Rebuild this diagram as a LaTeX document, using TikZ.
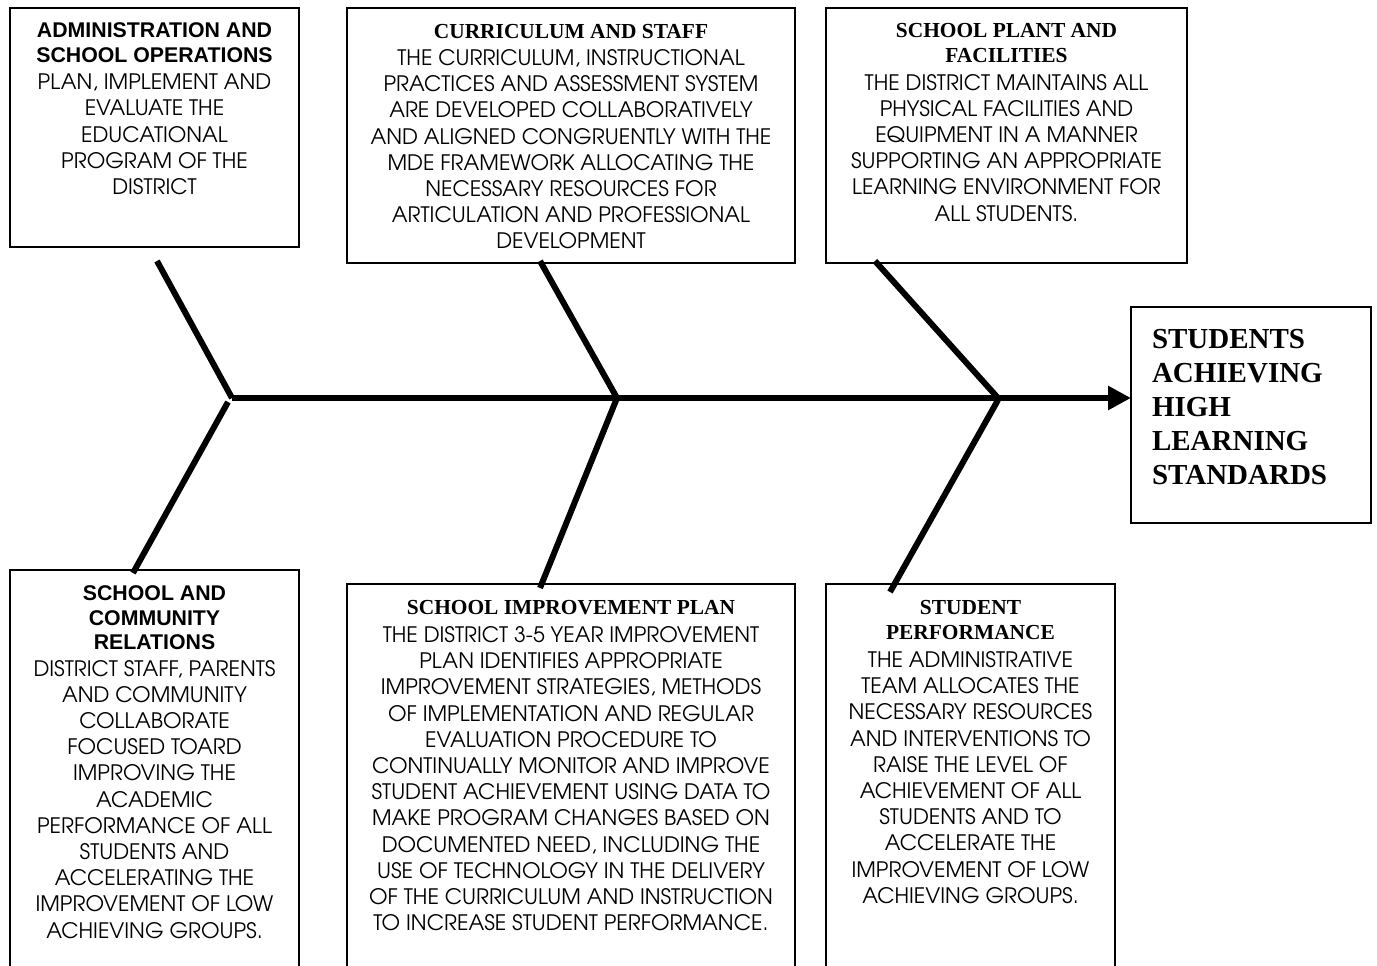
\documentclass[tikz,border=0pt]{standalone}
\usepackage{fontspec}
\usetikzlibrary{arrows.meta}
\newfontfamily\bodyf{TeX Gyre Adventor}
\newfontfamily\arialf{Liberation Sans}
\newfontfamily\timesf{Liberation Serif}
\begin{document}
\begin{tikzpicture}[x=1pt,y=-1pt,
  box/.style={draw, line width=1.4pt, inner sep=0pt, outer sep=0pt, anchor=north west},
  txt/.style={inner sep=0pt, outer sep=0pt, anchor=north, align=center},
  body/.style={txt, font=\bodyf\fontsize{21.3}{26.2}\selectfont},
  stitle/.style={txt, font=\arialf\bfseries\fontsize{21.3}{24.5}\selectfont},
  rtitle/.style={txt, font=\timesf\bfseries\fontsize{21.4}{24.5}\selectfont},
  goal/.style={inner sep=0pt, outer sep=0pt, anchor=north west, align=left, font=\timesf\bfseries\fontsize{29}{34}\selectfont},
  bone/.style={line width=6pt}]
\useasboundingbox (0,0) rectangle (1377,966);
\clip (0,0) rectangle (1377,966);
% boxes
\node[box, minimum width=289pt, minimum height=239pt] (A) at (10,8) {};
\node[box, minimum width=448pt, minimum height=255pt] (B) at (347,8) {};
\node[box, minimum width=361pt, minimum height=255pt] (C) at (826,8) {};
\node[box, minimum width=240pt, minimum height=216pt] (D) at (1131,307) {};
\node[box, minimum width=289pt, minimum height=450pt] (E) at (10,570) {};
\node[box, minimum width=448pt, minimum height=450pt] (F) at (347,584) {};
\node[box, minimum width=289pt, minimum height=450pt] (G) at (826,584) {};
% texts
\node[stitle] (At) at (154.5,23) {ADMINISTRATION AND\\SCHOOL OPERATIONS};
\node[body] (Ab) at (154.5,74) {PLAN, IMPLEMENT AND\\EVALUATE THE\\EDUCATIONAL\\PROGRAM OF THE\\DISTRICT};
\node[rtitle] (Bt) at (571,24.5) {CURRICULUM AND STAFF};
\node[body] (Bb) at (571,49.5) {THE CURRICULUM, INSTRUCTIONAL\\PRACTICES AND ASSESSMENT SYSTEM\\ARE DEVELOPED COLLABORATIVELY\\AND ALIGNED CONGRUENTLY WITH THE\\MDE FRAMEWORK ALLOCATING THE\\NECESSARY RESOURCES FOR\\ARTICULATION AND PROFESSIONAL\\DEVELOPMENT};
\node[rtitle] (Ct) at (1006.5,23.5) {SCHOOL PLANT AND\\FACILITIES};
\node[body] (Cb) at (1006.5,74) {THE DISTRICT MAINTAINS ALL\\PHYSICAL FACILITIES AND\\EQUIPMENT IN A MANNER\\SUPPORTING AN APPROPRIATE\\LEARNING ENVIRONMENT FOR\\ALL STUDENTS.};
\node[goal] (Dt) at (1152,329) {STUDENTS\\ACHIEVING\\HIGH\\LEARNING\\STANDARDS};
\node[stitle] (Et) at (154.5,586) {SCHOOL AND\\COMMUNITY\\RELATIONS};
\node[body] (Eb) at (154.5,660) {DISTRICT STAFF, PARENTS\\AND COMMUNITY\\COLLABORATE\\FOCUSED TOARD\\IMPROVING THE\\ACADEMIC\\PERFORMANCE OF ALL\\STUDENTS AND\\ACCELERATING THE\\IMPROVEMENT OF LOW\\ACHIEVING GROUPS.};
\node[rtitle] (Ft) at (571,600.5) {SCHOOL IMPROVEMENT PLAN};
\node[body] (Fb) at (571,626.5) {THE DISTRICT 3-5 YEAR IMPROVEMENT\\PLAN IDENTIFIES APPROPRIATE\\IMPROVEMENT STRATEGIES, METHODS\\OF IMPLEMENTATION AND REGULAR\\EVALUATION PROCEDURE TO\\CONTINUALLY MONITOR AND IMPROVE\\STUDENT ACHIEVEMENT USING DATA TO\\MAKE PROGRAM CHANGES BASED ON\\DOCUMENTED NEED, INCLUDING THE\\USE OF TECHNOLOGY IN THE DELIVERY\\OF THE CURRICULUM AND INSTRUCTION\\TO INCREASE STUDENT PERFORMANCE.};
\node[rtitle] (Gt) at (970.5,600.5) {STUDENT\\PERFORMANCE};
\node[body] (Gb) at (970.5,651.5) {THE ADMINISTRATIVE\\TEAM ALLOCATES THE\\NECESSARY RESOURCES\\AND INTERVENTIONS TO\\RAISE THE LEVEL OF\\ACHIEVEMENT OF ALL\\STUDENTS AND TO\\ACCELERATE THE\\IMPROVEMENT OF LOW\\ACHIEVING GROUPS.};
% fishbone
\coordinate (j1) at (232,398);
\coordinate (j2) at (617,398);
\coordinate (j3) at (998,398);
\coordinate (a1) at (157,261);
\coordinate (a2) at (540,261);
\coordinate (a3) at (875,261);
\coordinate (b1s) at (228,402);
\coordinate (b1) at (133,573);
\coordinate (b2) at (540,588);
\coordinate (b3s) at (998,400);
\coordinate (b3) at (890,592);
\draw[bone, -{Triangle[length=23pt,width=23pt]}] (j1) -- (j1 -| D.west);
\draw[bone] (a1) -- (j1);
\draw[bone] (a2) -- (j2);
\draw[bone] (a3) -- (j3);
\draw[bone] (b1s) -- (b1);
\draw[bone] (j2) -- (b2);
\draw[bone] (b3s) -- (b3);
\end{tikzpicture}
\end{document}
